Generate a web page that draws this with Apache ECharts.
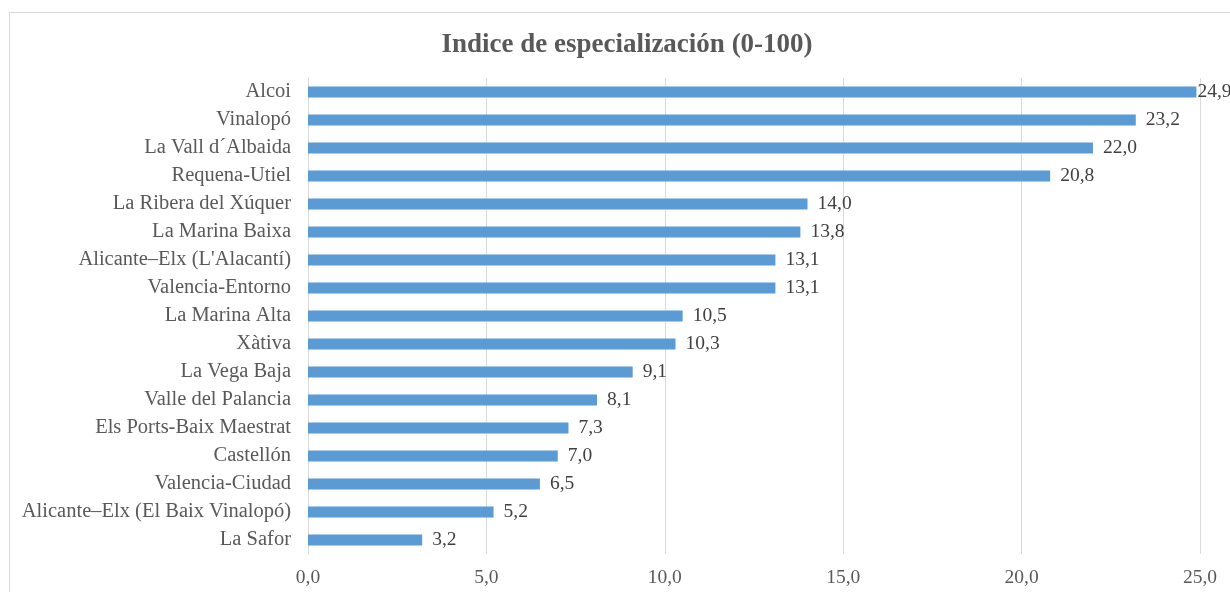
<!DOCTYPE html>
<html>
<head>
<meta charset="utf-8">
<script src="https://cdn.jsdelivr.net/npm/echarts@6.0.0/dist/echarts.min.js"></script>
<style>
  html, body { margin: 0; padding: 0; background: #fff; }
  #chart { width: 1230px; height: 592px; }
</style>
</head>
<body>
<div id="chart"></div>
<script>
// Regions, top to bottom
const regions = [
    'Alcoi', 'Vinalopó', 'La Vall d´Albaida', 'Requena-Utiel', 'La Ribera del Xúquer',
    'La Marina Baixa', "Alicante–Elx (L'Alacantí)", 'Valencia-Entorno', 'La Marina Alta',
    'Xàtiva', 'La Vega Baja', 'Valle del Palancia', 'Els Ports-Baix Maestrat', 'Castellón',
    'Valencia-Ciudad', 'Alicante–Elx (El Baix Vinalopó)', 'La Safor'
];
const indexValues = [24.9, 23.2, 22.0, 20.8, 14.0, 13.8, 13.1, 13.1, 10.5, 10.3, 9.1, 8.1, 7.3, 7.0, 6.5, 5.2, 3.2];

const fmt = v => v.toFixed(1).replace('.', ',');
const font = '"Liberation Serif", "Times New Roman", serif';

const chart = echarts.init(document.getElementById('chart'), null, { renderer: 'canvas' });

// the top bar runs out of room, so its label sits right at the bar end
const barData = indexValues.map((v, i) => i === 0
    ? { value: v, label: { distance: 1 } }
    : v);

chart.setOption({
    animation: false,
    textStyle: { fontFamily: font },
    graphic: [{
        type: 'rect',
        shape: { x: 9.5, y: 12.5, width: 1240, height: 600 },
        style: { fill: 'none', stroke: '#d9d9d9', lineWidth: 1 },
        silent: true
    }],
    title: {
        text: 'Indice de especialización (0-100)',
        left: 622,
        textAlign: 'center',
        top: 27,
        textStyle: { fontFamily: font, fontSize: 27, fontWeight: 'bold', color: '#595959' }
    },
    grid: { left: 308, right: 30, top: 78, bottom: 38, containLabel: false },
    xAxis: {
        type: 'value',
        min: 0,
        max: 25,
        interval: 5,
        axisLine: { show: false },
        axisTick: { show: false },
        splitLine: { lineStyle: { color: '#d9d9d9', width: 1 } },
        axisLabel: {
            margin: 14,
            fontFamily: font,
            fontSize: 19.5,
            color: '#595959',
            formatter: v => fmt(v)
        }
    },
    yAxis: {
        type: 'category',
        data: regions,
        inverse: true,
        axisLine: { show: true, lineStyle: { color: '#d9d9d9', width: 1 } },
        axisTick: { show: false },
        axisLabel: { margin: 17, fontFamily: font, fontSize: 20.5, color: '#595959' }
    },
    series: [{
        type: 'bar',
        data: barData,
        barWidth: 11,
        itemStyle: { color: '#5b9bd5' },
        label: {
            show: true,
            position: 'right',
            distance: 10,
            fontFamily: font,
            fontSize: 19.5,
            color: '#404040',
            formatter: p => fmt(p.value)
        }
    }]
});
</script>
</body>
</html>
